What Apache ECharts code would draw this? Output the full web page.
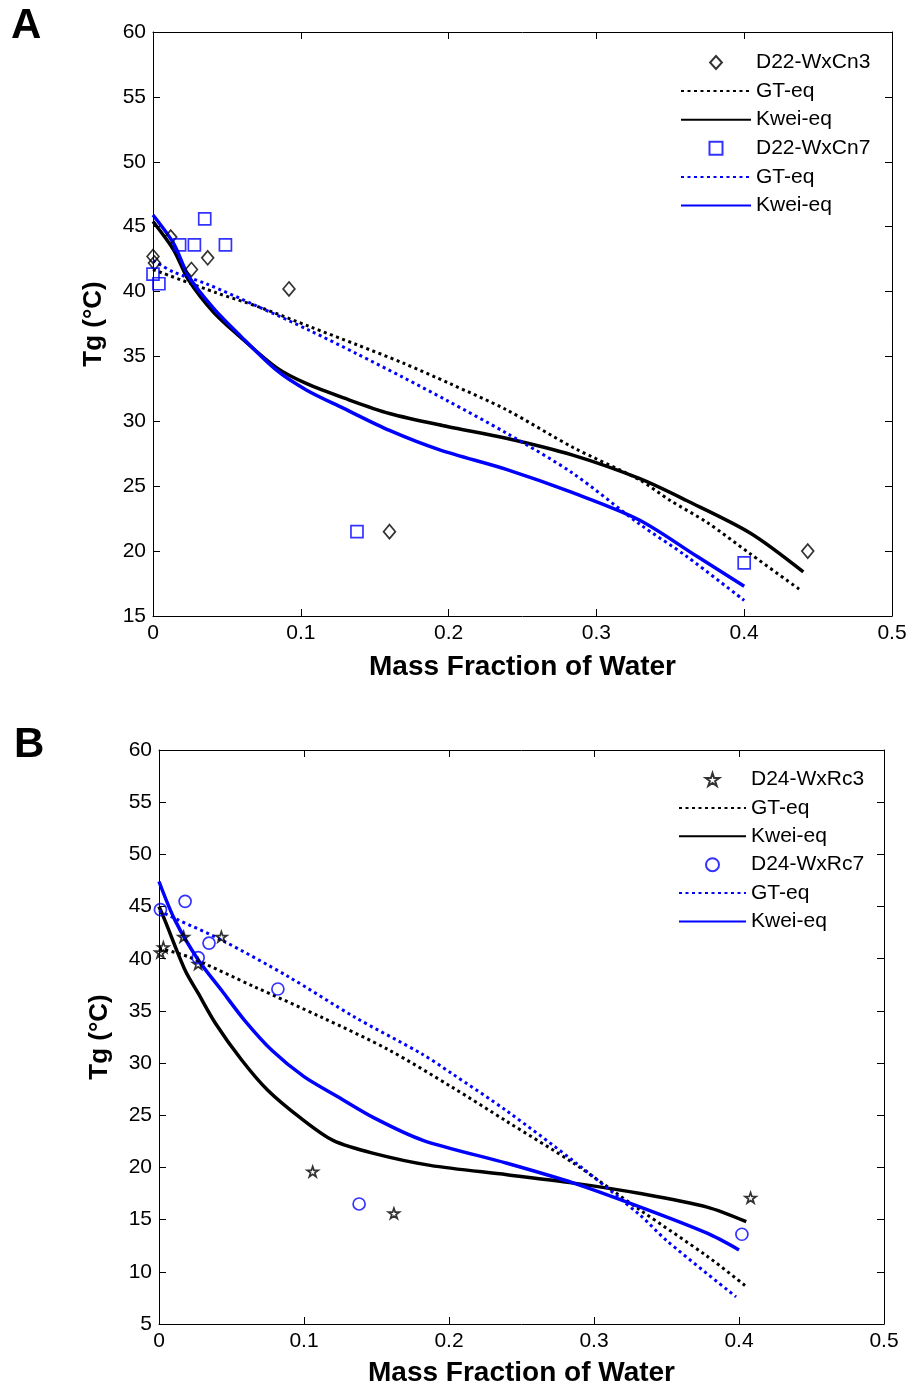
<!DOCTYPE html>
<html>
<head>
<meta charset="utf-8">
<script src="https://cdn.jsdelivr.net/npm/echarts@6/dist/echarts.min.js"></script>
<style>
html,body{margin:0;padding:0;background:#fff;}
#chart{width:914px;height:1389px;}
</style>
</head>
<body>
<div id="chart"></div>
<script>
// ---------- Panel A data (x = mass fraction of water, y = Tg in °C) ----------
var ptsA3 = [[0,42.7],[0.001,42.2],[0.012,44.2],[0.026,41.7],[0.037,42.6],[0.092,40.2],[0.160,21.5],[0.443,20.0]];
var gtA3 = [[0,41.7],[0.043,39.9],[0.072,38.8],[0.106,37.3],[0.138,35.9],[0.169,34.5],[0.201,32.9],[0.239,30.9],[0.284,28.0],[0.329,25.5],[0.35,23.9],[0.375,22.2],[0.404,19.8],[0.438,17.0]];
var kweiA3 = [[0,45.4],[0.014,43.2],[0.024,40.9],[0.041,38.4],[0.059,36.5],[0.084,34.1],[0.104,32.9],[0.129,31.8],[0.160,30.6],[0.199,29.6],[0.239,28.7],[0.284,27.4],[0.329,25.6],[0.361,23.9],[0.404,21.4],[0.440,18.4]];
var ptsA7 = [[0,41.35],[0.004,40.6],[0.018,43.6],[0.028,43.6],[0.049,43.6],[0.035,45.6],[0.138,21.5],[0.400,19.1]];
var gtA7 = [[0,42.4],[0.014,41.5],[0.036,40.6],[0.070,38.9],[0.106,37.0],[0.138,35.2],[0.169,33.4],[0.199,31.6],[0.239,29.1],[0.284,26.0],[0.329,22.1],[0.361,19.6],[0.400,16.2]];
var kweiA7 = [[0,45.9],[0.014,43.7],[0.024,41.2],[0.041,38.7],[0.059,36.6],[0.084,33.9],[0.104,32.4],[0.129,31.0],[0.160,29.3],[0.194,27.8],[0.239,26.3],[0.284,24.5],[0.329,22.4],[0.368,19.6],[0.400,17.3]];

// ---------- Panel B data ----------
var ptsB3 = [[0.001,40.6],[0.003,41.1],[0.017,42.1],[0.027,39.5],[0.043,42.1],[0.106,19.6],[0.162,15.6],[0.408,17.1]];
var gtB3 = [[0,41.0],[0.020,40.2],[0.066,37.3],[0.112,34.4],[0.158,31.3],[0.202,27.7],[0.240,24.4],[0.286,20.4],[0.332,15.9],[0.378,11.5],[0.405,8.6]];
var kweiB3 = [[0,45.0],[0.004,43.7],[0.018,38.9],[0.027,36.7],[0.039,33.8],[0.057,30.3],[0.075,27.4],[0.098,24.7],[0.120,22.6],[0.148,21.35],[0.187,20.2],[0.240,19.3],[0.286,18.5],[0.332,17.5],[0.378,16.2],[0.405,14.8]];
var ptsB7 = [[0.001,44.7],[0.018,45.5],[0.027,40.1],[0.0345,41.5],[0.082,37.1],[0.138,16.5],[0.402,13.6]];
var gtB7 = [[0,44.6],[0.012,43.8],[0.043,41.8],[0.089,38.3],[0.135,34.4],[0.181,30.9],[0.202,29.0],[0.240,25.4],[0.286,20.6],[0.332,15.4],[0.350,13.0],[0.398,7.6]];
var kweiB7 = [[0,47.4],[0.011,43.7],[0.027,39.9],[0.043,37.0],[0.059,34.1],[0.078,31.2],[0.100,28.7],[0.123,26.8],[0.149,24.7],[0.182,22.6],[0.240,20.4],[0.286,18.5],[0.332,16.2],[0.378,13.7],[0.400,12.1]];

// ---------- labels ----------
var legendA = ['D22-WxCn3','GT-eq (Cn3)','Kwei-eq (Cn3)','D22-WxCn7','GT-eq (Cn7)','Kwei-eq (Cn7)'];
var legendB = ['D24-WxRc3','GT-eq (Rc3)','Kwei-eq (Rc3)','D24-WxRc7','GT-eq (Rc7)','Kwei-eq (Rc7)'];
var xTitle = 'Mass Fraction of Water';
var yTitle = 'Tg (°C)';

var FONT = '"Liberation Sans", Arial, sans-serif';
var BLUE = '#0000ff';
var STAR = 'path://M50,0 L61.2,34.5 L97.5,34.5 L68.2,55.9 L79.4,90.5 L50,69.1 L20.6,90.5 L31.8,55.9 L2.5,34.5 L38.8,34.5 Z';
var DIAMOND = 'path://M50,0 L100,55 L50,110 L0,55 Z';
var SQUARE = 'path://M0,0 L100,0 L100,100 L0,100 Z';

function xAx(grid, main, gap) {
  return {
    type: 'value', gridIndex: grid, min: 0, max: 0.5, interval: 0.1,
    position: main ? 'bottom' : 'top',
    name: main ? xTitle : '', nameLocation: 'middle', nameGap: gap,
    nameTextStyle: {fontFamily: FONT, fontSize: 28, fontWeight: 'bold', color: '#000'},
    axisLine: {show: true, onZero: false, lineStyle: {color: '#000', width: 1}},
    axisTick: {show: true, inside: true, length: 7, lineStyle: {color: '#000'}},
    axisLabel: {show: main, fontFamily: FONT, fontSize: 21, color: '#000', margin: 7},
    splitLine: {show: false}
  };
}
function yAx(grid, main, min) {
  return {
    type: 'value', gridIndex: grid, min: min, max: 60, interval: 5,
    position: main ? 'left' : 'right',
    name: main ? yTitle : '', nameLocation: 'middle', nameGap: 46, nameRotate: 90,
    nameTextStyle: {fontFamily: FONT, fontSize: 26, fontWeight: 'bold', color: '#000'},
    axisLine: {show: true, onZero: false, lineStyle: {color: '#000', width: 1}},
    axisTick: {show: true, inside: true, length: 7, lineStyle: {color: '#000'}},
    axisLabel: {show: main, fontFamily: FONT, fontSize: 21, color: '#000', margin: 7},
    splitLine: {show: false}
  };
}
function pts(name, data, xi, symbol, size, color) {
  return {name: name, type: 'scatter', xAxisIndex: xi, yAxisIndex: xi, data: data,
    symbol: symbol, symbolSize: size, symbolKeepAspect: true, z: 5,
    itemStyle: {color: 'rgba(0,0,0,0)', borderColor: color, borderWidth: 1.7}};
}
function ln(name, data, xi, color, dotted) {
  return {name: name, type: 'line', xAxisIndex: xi, yAxisIndex: xi, data: data,
    symbol: 'none', smooth: 0.3, z: 3,
    itemStyle: {color: 'rgba(0,0,0,0)', borderWidth: 0},
    lineStyle: dotted ? {color: color, width: 3, type: [3, 3.5], cap: 'butt'}
                      : {color: color, width: 3.5, type: 'solid'}};
}
function legend(data, left, top, w, gap) {
  return {
    data: data, orient: 'vertical', left: left, top: top, padding: 0,
    itemWidth: w, itemHeight: 13, itemGap: gap, selectedMode: false,
    symbolKeepAspect: true,
    textStyle: {fontFamily: FONT, fontSize: 21, color: '#000'},
    formatter: function (n) { return n.replace(/ \(.*\)$/, ''); }
  };
}

var chart = echarts.init(document.getElementById('chart'), null, {renderer: 'canvas'});
chart.setOption({
  backgroundColor: '#fff',
  animation: false,
  grid: [
    {left: 153, top: 32, width: 739, height: 584},
    {left: 159, top: 750, width: 725, height: 574}
  ],
  xAxis: [xAx(0, true, 37), xAx(1, true, 35), xAx(0, false, 0), xAx(1, false, 0)],
  yAxis: [yAx(0, true, 15), yAx(1, true, 5), yAx(0, false, 15), yAx(1, false, 5)],
  legend: [legend(legendA, 680, 52, 70, 7.6), legend(legendB, 678, 769, 67, 7.4)],
  series: [
    pts(legendA[0], ptsA3, 0, DIAMOND, [13, 14], '#000'),
    ln(legendA[1], gtA3, 0, '#000', true),
    ln(legendA[2], kweiA3, 0, '#000', false),
    pts(legendA[3], ptsA7, 0, SQUARE, 12, BLUE),
    ln(legendA[4], gtA7, 0, BLUE, true),
    ln(legendA[5], kweiA7, 0, BLUE, false),
    pts(legendB[0], ptsB3, 1, STAR, 11, '#000'),
    ln(legendB[1], gtB3, 1, '#000', true),
    ln(legendB[2], kweiB3, 1, '#000', false),
    pts(legendB[3], ptsB7, 1, 'circle', 12, BLUE),
    ln(legendB[4], gtB7, 1, BLUE, true),
    ln(legendB[5], kweiB7, 1, BLUE, false)
  ],
  graphic: [
    {type: 'text', left: 11, top: 5, style: {text: 'A', font: 'bold 42px ' + FONT, fill: '#000'}},
    {type: 'text', left: 14, top: 724, style: {text: 'B', font: 'bold 42px ' + FONT, fill: '#000'}}
  ]
});
</script>
</body>
</html>
